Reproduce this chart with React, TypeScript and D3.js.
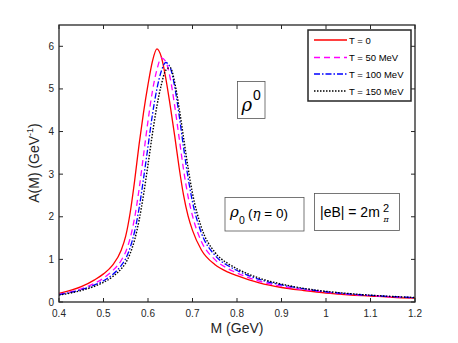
import React from "react";
import * as d3 from "d3";

const mGrid = [0.40, 0.45, 0.48, 0.50, 0.52, 0.54, 0.55, 0.56, 0.57, 0.58, 0.59, 0.60, 0.61, 0.62, 0.63, 0.64, 0.65, 0.66, 0.67, 0.68, 0.69, 0.70, 0.72, 0.75, 0.78, 0.80, 0.85, 0.90, 0.95, 1.00, 1.05, 1.10, 1.15, 1.20];

const aT0 = [0.20, 0.36, 0.52, 0.66, 0.86, 1.22, 1.55, 2.10, 2.85, 3.70, 4.45, 5.10, 5.65, 5.94, 5.75, 5.25, 4.60, 3.90, 3.15, 2.50, 2.02, 1.68, 1.22, 0.88, 0.70, 0.62, 0.45, 0.34, 0.27, 0.21, 0.17, 0.14, 0.11, 0.09];
const aT50 = [0.18, 0.31, 0.44, 0.56, 0.73, 0.98, 1.18, 1.50, 1.98, 2.65, 3.45, 4.25, 4.95, 5.45, 5.73, 5.64, 5.25, 4.60, 3.85, 3.10, 2.48, 2.02, 1.42, 1.00, 0.78, 0.68, 0.49, 0.37, 0.29, 0.23, 0.18, 0.15, 0.12, 0.10];
const aT100 = [0.17, 0.29, 0.40, 0.50, 0.64, 0.86, 1.02, 1.28, 1.66, 2.20, 2.90, 3.65, 4.40, 5.00, 5.42, 5.62, 5.50, 5.05, 4.38, 3.62, 2.92, 2.35, 1.62, 1.10, 0.85, 0.74, 0.53, 0.40, 0.31, 0.24, 0.19, 0.155, 0.125, 0.10];
const aT150 = [0.16, 0.27, 0.37, 0.46, 0.59, 0.78, 0.92, 1.14, 1.46, 1.92, 2.52, 3.22, 3.95, 4.60, 5.10, 5.44, 5.50, 5.15, 4.55, 3.85, 3.15, 2.55, 1.75, 1.17, 0.90, 0.78, 0.56, 0.42, 0.32, 0.25, 0.20, 0.16, 0.13, 0.105];

const seriesNames = ["T = 0", "T = 50 MeV", "T = 100 MeV", "T = 150 MeV"];
const seriesColors = ["#ff0000", "#ff00ff", "#0000ff", "#000000"];
const seriesDash = ["", "6,4", "6,2,1.5,2", "1.5,1.5"];
const seriesData = [aT0, aT50, aT100, aT150];

const xTicks = [0.4, 0.5, 0.6, 0.7, 0.8, 0.9, 1.0, 1.1, 1.2];
const xTickLabels = ["0.4", "0.5", "0.6", "0.7", "0.8", "0.9", "1", "1.1", "1.2"];
const yTicks = [0, 1, 2, 3, 4, 5, 6];

const W = 458, H = 343;
const L = 59, R = 415, T = 25, B = 302;
const axisColor = "#262626";
const font = "'Liberation Sans', Arial, Helvetica, sans-serif";
const greek = "'DejaVu Serif', serif";

export default function App() {
  const x = d3.scaleLinear().domain([0.4, 1.2]).range([L, R]);
  const y = d3.scaleLinear().domain([0, 6.5]).range([B, T]);
  const line = d3
    .line<number>()
    .x((_, i) => x(mGrid[i]))
    .y((d) => y(d))
    .curve(d3.curveMonotoneX);

  const legX = 308, legY = 30, legW = 103, legH = 71;
  const rowY = [40, 57.5, 74, 91];

  return (
    <svg width={W} height={H} style={{ position: "absolute", left: 0, top: 0, background: "#fff" }} fontFamily={font}>
      <rect x={0} y={0} width={W} height={H} fill="#fff" />
      <defs>
        <clipPath id="plotclip">
          <rect x={L} y={T} width={R - L} height={B - T} />
        </clipPath>
      </defs>
      <g clipPath="url(#plotclip)">
        {seriesData.map((d, i) => (
          <path key={i} d={line(d) || ""} fill="none" stroke={seriesColors[i]} strokeWidth={i === 3 ? 1.4 : 1.3} strokeDasharray={seriesDash[i]} />
        ))}
      </g>
      <rect x={L} y={T} width={R - L} height={B - T} fill="none" stroke={axisColor} strokeWidth={1.3} />
      {xTicks.map((t, i) => (
        <g key={"xt" + i}>
          <line x1={x(t)} x2={x(t)} y1={B} y2={B - 4} stroke={axisColor} strokeWidth={1} />
          <line x1={x(t)} x2={x(t)} y1={T} y2={T + 4} stroke={axisColor} strokeWidth={1} />
          <text x={x(t)} y={317} fontSize={10} fill={axisColor} textAnchor="middle">{xTickLabels[i]}</text>
        </g>
      ))}
      {yTicks.map((t, i) => (
        <g key={"yt" + i}>
          <line x1={L} x2={L + 4} y1={y(t)} y2={y(t)} stroke={axisColor} strokeWidth={1} />
          <line x1={R} x2={R - 4} y1={y(t)} y2={y(t)} stroke={axisColor} strokeWidth={1} />
          <text x={54} y={y(t) + 3.5} fontSize={10} fill={axisColor} textAnchor="end">{t}</text>
        </g>
      ))}
      <text x={237} y={333} fontSize={14} fill={axisColor} textAnchor="middle">M (GeV)</text>
      <text transform={`translate(39,163) rotate(-90)`} fontSize={14} fill={axisColor} textAnchor="middle">
        A(M) (GeV<tspan dy={-6} fontSize={9}>-1</tspan><tspan dy={6}>)</tspan>
      </text>

      <rect x={legX} y={legY} width={legW} height={legH} fill="#fff" stroke={axisColor} strokeWidth={1.5} />
      {seriesNames.map((n, i) => (
        <g key={"lg" + i}>
          <line x1={314} x2={347} y1={rowY[i]} y2={rowY[i]} stroke={seriesColors[i]} strokeWidth={1.3} strokeDasharray={seriesDash[i]} />
          <text x={349} y={rowY[i] + 3.5} fontSize={9.5} fill="#000">{n}</text>
        </g>
      ))}

      <rect x={237.5} y={81.5} width={27.5} height={37} fill="#fff" stroke="#555" strokeWidth={0.8} />
      <text x={241.5} y={111} fontSize={18} fontStyle="italic" fontFamily={greek} fill="#000">ρ</text>
      <text x={253} y={100} fontSize={14} fill="#000">0</text>

      <rect x={225} y={197.5} width={79} height={33.5} fill="#fff" stroke="#555" strokeWidth={0.8} />
      <text x={230} y={217} fontSize={15} fontStyle="italic" fontFamily={greek} fill="#000">ρ</text>
      <text x={239} y={224} fontSize={10.5} fill="#000">0</text>
      <text x={248} y={218} fontSize={13.5} fill="#000">(<tspan fontStyle="italic" fontFamily={greek}>η</tspan> = 0)</text>

      <rect x={314.5} y={193.5} width={85} height={37} fill="#fff" stroke="#555" strokeWidth={0.8} />
      <text x={320} y={217} fontSize={14} fill="#000">|eB| = 2m</text>
      <text x={383} y={211.5} fontSize={11} fill="#000">2</text>
      <text x={383.5} y={222} fontSize={8} fontStyle="italic" fontFamily={greek} fill="#000">π</text>
    </svg>
  );
}
